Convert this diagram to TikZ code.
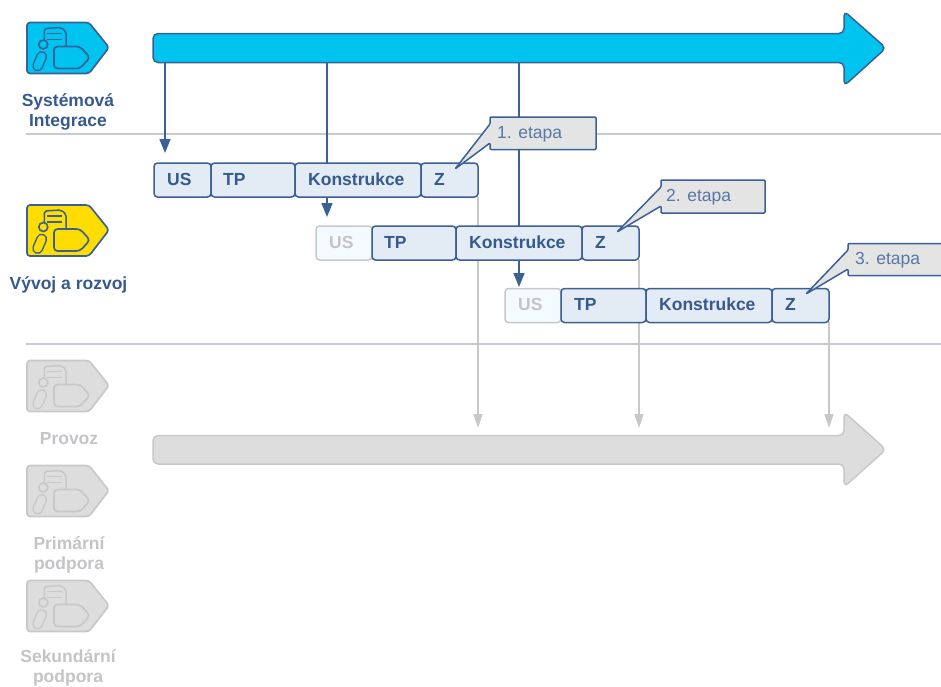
\documentclass[tikz,border=0pt]{standalone}
\usepackage{fontspec}
\setmainfont{Liberation Sans}
\usetikzlibrary{arrows.meta,calc}
\definecolor{navy}{HTML}{3A6096}
\definecolor{navytext}{HTML}{365A8E}
\definecolor{skyfill}{HTML}{00C4F0}
\definecolor{sunfill}{HTML}{FFDD00}
\definecolor{boxfill}{HTML}{E3EBF4}
\definecolor{palefill}{HTML}{F3FBFE}
\definecolor{greyfill}{HTML}{DDDDDD}
\definecolor{greyline}{HTML}{C8C8C8}
\definecolor{greytext}{HTML}{C4C4C8}
\definecolor{rulecol}{HTML}{C9C9D2}
\definecolor{notefill}{HTML}{E4E4E4}
\tikzset{
  x=1pt,y=-1pt,
  segbox/.style={draw=navy,fill=boxfill,line width=1.5pt,rounded corners=3.5pt,inner sep=0pt,outer sep=0pt,anchor=north west},
  segpale/.style={segbox,draw=greyline,fill=palefill},
  segtext/.style={font=\fontsize{17.5}{20}\selectfont\bfseries,text=navytext,inner sep=0pt,anchor=west},
  segtextpale/.style={segtext,text=greytext},
  rolelabel/.style={font=\fontsize{17.5}{20.5}\selectfont\bfseries,text=navytext,inner sep=0pt,align=center},
  rolelabelgrey/.style={rolelabel,text=greytext},
  notebox/.style={draw=navy,fill=notefill,line width=1.5pt,rounded corners=1pt,line join=round},
  notetext/.style={font=\fontsize{17.5}{20}\selectfont,text=navy!85!white,inner sep=0pt,anchor=west},
  bigbar/.style={line width=1.5pt,rounded corners=5pt},
  rule/.style={draw=rulecol,line width=1.3pt},
  linkblue/.style={draw=navy,line width=1.6pt,-{Triangle[length=14pt,width=11pt]}},
  linkblueplain/.style={draw=navy,line width=1.6pt},
  linkgrey/.style={draw=greyline,line width=1.5pt,-{Triangle[length=14pt,width=9pt]}},
}
% role icon: top-left corner x,y ; fill ; line
\newcommand{\roleicon}[4]{%
  \begin{scope}[shift={(#1,#2)}]
    \draw[fill=#3,draw=#4,line width=1.7pt,rounded corners=3pt,line join=round]
      (0,0) -- (62,0) -- (82,25) -- (62,51) -- (0,51) -- cycle;
    \draw[draw=#4,line width=1.5pt,rounded corners=2pt]
      (17.3,22) -- (17.3,6) -- (34,5) -- (39,9) -- (39,25);
    \draw[draw=#4,line width=1.3pt] (20,11) -- (35,11) (20,17) -- (35,17);
    \draw[draw=#4,fill=#3,line width=1.6pt] (16.3,22) circle (4.5);
    \draw[line cap=round,draw=#4,line width=11pt] (14.7,34) -- (10.7,43.5);
    \draw[line cap=round,draw=#3,line width=8pt] (14.7,34) -- (10.7,43.5);
    \draw[fill=#3,draw=#4,line width=1.7pt,rounded corners=3.5pt,line join=round]
      (27,24) -- (53,24) -- (63,35) -- (53,46) -- (27,46) -- cycle;
  \end{scope}}
% timeline segment: name, x, y, width, label, box style, text style, text inset
\newcommand{\seg}[8]{%
  \node[#6,minimum width=#4pt,minimum height=34pt] (#1) at (#2,#3) {};
  \node[#7] (#1t) at ($(#1.west)+(#8pt,1pt)$) {#5};}
\begin{document}
\begin{tikzpicture}
\useasboundingbox (0,0) rectangle (941,686);
% rules
\coordinate (ruleAl) at (26,134); \coordinate (ruleAr) at (941,134);
\coordinate (ruleBl) at (26,344); \coordinate (ruleBr) at (941,344);
\draw[rule] (ruleAl) -- (ruleAr);
\draw[rule] (ruleBl) -- (ruleBr);
% named anchors of the big bars
\coordinate (barA) at (165,62);
\coordinate (barB) at (327,62);
\coordinate (barC) at (519,62);
\coordinate (endA) at (165,153);
\coordinate (endB) at (327,217);
\coordinate (endC) at (519,287);
\coordinate (greyA) at (478,428);
\coordinate (greyB) at (639,428);
\coordinate (greyC) at (829,428);
\coordinate (greyAs) at (478,197);
\coordinate (greyBs) at (639,260);
\coordinate (greyCs) at (829,322);
% big bars
\draw[bigbar,draw=navy,fill=skyfill]
  (153,33.5) -- (844,33.5) -- (844,11) -- (886,48) -- (844,86) -- (844,62.5) -- (153,62.5) -- cycle;
\draw[bigbar,draw=greyline,fill=greyfill]
  (153,435.5) -- (844,435.5) -- (844,412) -- (886,449.5) -- (844,487) -- (844,464) -- (153,464) -- cycle;
% grey drops run behind the segments
\draw[linkgrey] (greyAs) -- (greyA);
\draw[linkgrey] (greyBs) -- (greyB);
\draw[linkgrey] (greyCs) -- (greyC);
% segments
\seg{usA}{154}{163}{57}{US}{segbox}{segtext}{13}
\seg{tpA}{211}{163}{84}{TP}{segbox}{segtext}{12}
\seg{koA}{295}{163}{126}{Konstrukce}{segbox}{segtext}{13}
\seg{zA}{421}{163}{57}{Z}{segbox}{segtext}{13}
\seg{usB}{316}{226}{56}{US}{segpale}{segtextpale}{13}
\seg{tpB}{372}{226}{84}{TP}{segbox}{segtext}{12}
\seg{koB}{456}{226}{126}{Konstrukce}{segbox}{segtext}{13}
\seg{zB}{582}{226}{57}{Z}{segbox}{segtext}{13}
\seg{usC}{505}{288.5}{56}{US}{segpale}{segtextpale}{13}
\seg{tpC}{561}{288.5}{85}{TP}{segbox}{segtext}{13}
\seg{koC}{646}{288.5}{126}{Konstrukce}{segbox}{segtext}{13}
\seg{zC}{772}{288.5}{57}{Z}{segbox}{segtext}{13}
% blue links
\draw[linkblue] (barA) -- (endA);
\draw[linkblueplain] (barB) -- (barB |- koA.north);
\draw[linkblue] (barB |- koA.south) -- (endB);
\draw[linkblueplain] (barC) -- (barC |- koB.north);
\draw[linkblue] (barC |- koB.south) -- (endC);
% callouts
\draw[notebox] (490,117) -- (596,117) -- (596,149.5) -- (490,149.5) -- (490,143) -- (455,169) -- (490,124) -- cycle;
\node[notetext] (noteA) at (497,134) {1. etapa};
\draw[notebox] (661,180) -- (765,180) -- (765,213) -- (661,213) -- (661,206) -- (617,232) -- (661,187) -- cycle;
\node[notetext] (noteB) at (666,197) {2. etapa};
\draw[notebox] (848,243.5) -- (945,243.5) -- (945,275.5) -- (848,275.5) -- (848,269) -- (806,294) -- (848,250) -- cycle;
\node[notetext] (noteC) at (855,260) {3. etapa};
% icons
\roleicon{27}{22.5}{skyfill}{navy}
\roleicon{27}{205}{sunfill}{navy}
\roleicon{27}{360.5}{greyfill}{greyline}
\roleicon{27}{465.5}{greyfill}{greyline}
\roleicon{27}{580.5}{greyfill}{greyline}
% labels
\node[rolelabel] (lblSys) at (68,112) {Systémová\\Integrace};
\node[rolelabel] (lblDev) at (68.5,285) {Vývoj a rozvoj};
\node[rolelabelgrey] (lblOps) at (69,439) {Provoz};
\node[rolelabelgrey] (lblPri) at (69,555) {Primární\\podpora};
\node[rolelabelgrey] (lblSec) at (68,668) {Sekundární\\podpora};
\end{tikzpicture}
\end{document}
